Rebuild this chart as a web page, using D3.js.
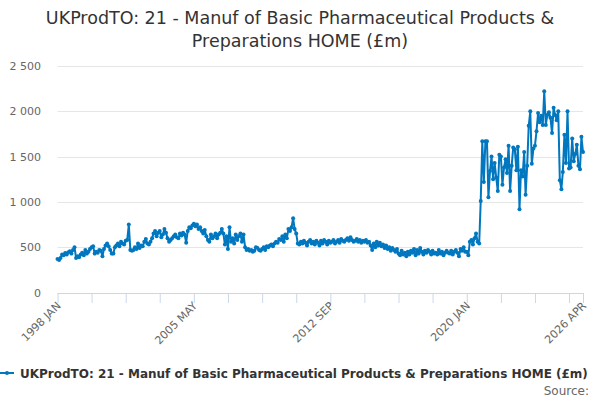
<!DOCTYPE html>
<html>
<head>
<meta charset="utf-8">
<script src="https://cdn.jsdelivr.net/npm/d3@7"></script>
<style>
  html, body { margin: 0; padding: 0; background: #fff; }
  svg { display: block; font-family: "DejaVu Sans", sans-serif; }
</style>
</head>
<body>
<svg id="chart" width="600" height="400"></svg>
<script>
const titleLines = ["UKProdTO: 21 - Manuf of Basic Pharmaceutical Products &", "Preparations HOME (£m)"];
const seriesName = "UKProdTO: 21 - Manuf of Basic Pharmaceutical Products & Preparations HOME (£m)";
const startYear = 1998;
const monthNames = ["JAN","FEB","MAR","APR","MAY","JUN","JUL","AUG","SEP","OCT","NOV","DEC"];
const yTicks = [0, 500, 1000, 1500, 2000, 2500];
const xTickLabelIdx = [0, 88, 176, 264, 339];

// monthly values, 1998 JAN .. 2026 APR (£m)
const values1998_2004 = [
  370,360,380,420,410,435,420,445,455,430,470,500,
  380,400,390,420,440,410,470,430,450,480,500,510,
  430,450,440,470,460,400,480,520,540,510,470,430,
  430,500,520,540,510,560,540,530,570,580,750,470,
  460,470,500,480,540,490,520,510,560,590,540,530,
  560,600,650,680,620,660,680,610,640,700,660,600,
  560,580,600,620,640,610,600,650,630,660,640,550
];
const values2005_2011 = [
  680,720,710,740,760,730,750,700,720,680,650,690,
  620,580,560,640,600,620,650,600,640,660,700,650,
  530,620,480,720,560,600,540,640,580,620,650,560,
  640,500,470,480,460,470,450,460,500,490,470,460,
  480,500,470,510,500,520,530,510,540,560,550,590,
  580,620,560,640,600,700,680,720,820,700,650,540,
  530,560,540,570,550,520,560,580,540,560,530,570
];
const values2012_2019 = [
  550,520,570,540,580,560,530,570,550,560,580,540,
  560,580,550,590,570,560,580,600,570,610,580,560,
  570,590,560,580,550,570,560,580,550,560,520,470,
  540,500,560,520,550,510,530,490,520,480,500,460,
  490,470,450,480,430,410,460,420,440,400,450,420,
  460,440,480,410,470,430,490,450,420,460,440,470,
  450,420,460,430,440,420,470,430,450,410,440,460,
  440,430,460,420,450,470,440,400,480,460,500,450
];
const values2020_2026 = [
  450,410,560,580,530,600,650,560,540,
  1010,1670,1220,1670,1670,1050,1340,1500,1250,1430,1270,1120,1520,1500,
  1190,1380,1470,1320,1620,1120,1400,1600,1580,1350,1610,920,1350,1280,
  1550,1080,1400,1840,2000,1420,1590,1620,1780,1980,1880,1950,1850,2220,
  1850,1960,1990,1930,1760,2040,1960,1900,2000,1240,1140,1330,1740,1430,
  2000,1370,1380,1700,1450,1530,1630,1400,1360,1720,1550
];

const values = [].concat(values1998_2004, values2005_2011, values2012_2019, values2020_2026);
const data = values.map((v, i) => ({
  i,
  date: new Date(startYear + Math.floor(i / 12), i % 12, 1),
  label: (startYear + Math.floor(i / 12)) + " " + monthNames[i % 12],
  value: v
}));

const svg = d3.select("#chart");
const plotLeft = 57.5, plotRight = 583, plotTop = 66, plotBottom = 292.5;

const x = d3.scaleTime()
  .domain([data[0].date, data[data.length - 1].date])
  .range([plotLeft, plotRight]);
const y = d3.scaleLinear().domain([0, 2500]).range([plotBottom, plotTop]);

// title
svg.append("g").selectAll("text").data(titleLines).join("text")
  .attr("x", 300).attr("y", (d, k) => 24 + k * 23)
  .attr("text-anchor", "middle")
  .attr("fill", "#333333")
  .style("font-size", "17.5px")
  .text(d => d);

// grid
svg.append("g").selectAll("line").data(yTicks.filter(t => t > 0)).join("line")
  .attr("x1", plotLeft).attr("x2", plotRight)
  .attr("y1", d => Math.round(y(d)) + 0.5).attr("y2", d => Math.round(y(d)) + 0.5)
  .attr("stroke", "#e6e6e6").attr("stroke-width", 1);

// y labels
svg.append("g").selectAll("text").data(yTicks).join("text")
  .attr("x", 41).attr("y", d => y(d) + 4)
  .attr("text-anchor", "end")
  .attr("fill", "#666666")
  .style("font-size", "11px")
  .text(d => d3.format(",")(d).replace(/,/g, " "));

// x axis
const tickIdx = [];
for (let k = 0; k < data.length; k += 22) tickIdx.push(k);
if (tickIdx[tickIdx.length - 1] !== data.length - 1) tickIdx.push(data.length - 1);
const xAxis = d3.axisBottom(x)
  .tickValues(tickIdx.map(k => data[k].date))
  .tickSize(10)
  .tickFormat(() => "");
const gx = svg.append("g").attr("transform", `translate(0,${plotBottom + 0.5})`).call(xAxis);
gx.select(".domain").attr("stroke", "#ccd6eb").attr("d", `M${plotLeft},0.5H${plotRight + 1}`);
gx.selectAll(".tick line").attr("stroke", "#ccd6eb");

svg.append("g").selectAll("text").data(xTickLabelIdx.map(k => data[k])).join("text")
  .attr("transform", d => `translate(${x(d.date) + 4},${plotBottom + 14}) rotate(-45)`)
  .attr("text-anchor", "end")
  .attr("fill", "#666666")
  .style("font-size", "11px")
  .text(d => d.label);

// line
const color = "#0077bf";
svg.append("path").datum(data)
  .attr("fill", "none").attr("stroke", color).attr("stroke-width", 2)
  .attr("stroke-linejoin", "round")
  .attr("d", d3.line().x(d => x(d.date)).y(d => y(d.value)));

svg.append("g").selectAll("circle").data(data).join("circle")
  .attr("cx", d => x(d.date)).attr("cy", d => y(d.value))
  .attr("r", 2).attr("fill", color);

// legend
const lg = svg.append("g").attr("transform", "translate(0,373)");
lg.append("line").attr("x1", 0).attr("x2", 14).attr("y1", 0).attr("y2", 0)
  .attr("stroke", color).attr("stroke-width", 2);
lg.append("circle").attr("cx", 7).attr("cy", 0).attr("r", 2).attr("fill", color);
lg.append("text").attr("x", 20).attr("y", 5)
  .attr("fill", "#333333").style("font-size", "12px").style("font-weight", "bold")
  .text(seriesName);

svg.append("text").attr("x", 589).attr("y", 395)
  .attr("text-anchor", "end").attr("fill", "#666666").style("font-size", "12px")
  .text("Source:");
</script>
</body>
</html>
